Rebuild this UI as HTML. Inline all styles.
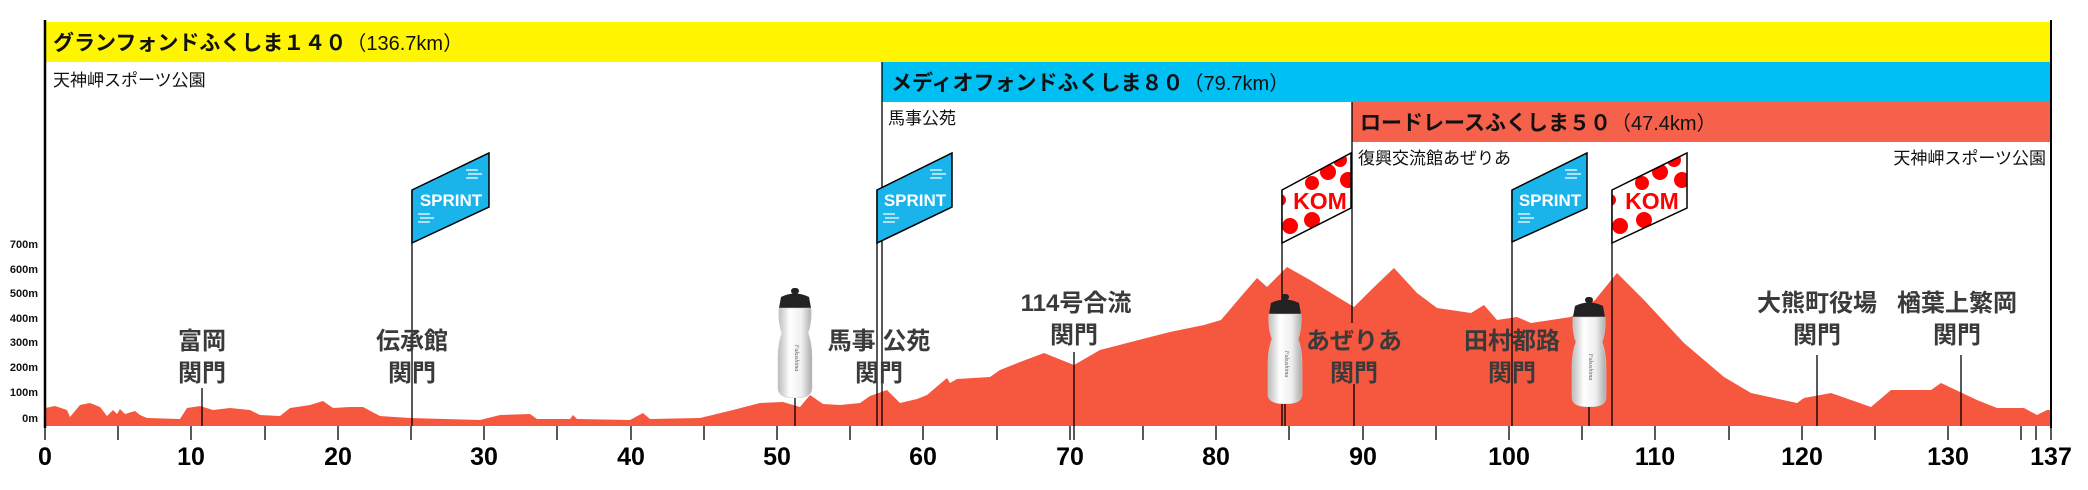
<!DOCTYPE html>
<html><head><meta charset="utf-8"><style>
html,body{margin:0;padding:0;background:#fff;width:2088px;height:490px;overflow:hidden}
svg{display:block}
.jp{font-family:"Liberation Sans","Noto Sans CJK JP",sans-serif}
</style></head><body>
<svg width="2088" height="490" viewBox="0 0 2088 490" xmlns="http://www.w3.org/2000/svg">
<defs>
<linearGradient id="bt" x1="0" x2="1"><stop offset="0" stop-color="#bbb"/><stop offset="0.35" stop-color="#fff"/><stop offset="0.7" stop-color="#eee"/><stop offset="1" stop-color="#aaa"/></linearGradient>
<symbol id="bottle" viewBox="0 0 38 110">
<rect x="15" y="0" width="8" height="6" rx="3" fill="#222"/>
<path d="M5 9 Q19 2 33 9 L35 20 L3 20 Z" fill="#222"/>
<path d="M3 20 L35 20 Q36 35 32 45 Q36 55 36 70 L36 100 Q36 110 19 110 Q2 110 2 100 L2 70 Q2 55 6 45 Q2 35 3 20 Z" fill="url(#bt)" stroke="#ccc" stroke-width="0.6"/>
<text x="19" y="70" font-size="6" fill="#666" transform="rotate(90 19 70)" text-anchor="middle" font-family="Liberation Serif,serif" font-style="italic">Fukushima</text>
</symbol>
<clipPath id="k1"><polygon points="1282,190 1351,153 1351,208 1282,243"/></clipPath>
<clipPath id="k2"><polygon points="1612,190 1687,153 1687,208 1612,243"/></clipPath>
</defs>

<rect x="45" y="22" width="2006" height="40" fill="#fff500"/>
<rect x="882" y="62" width="1169" height="40" fill="#00bff3"/>
<rect x="1352" y="102" width="699" height="40" fill="#f5614b"/>
<g class="jp" font-weight="bold" font-size="21" fill="#111">
<text x="53" y="50">グランフォンドふくしま１４０<tspan font-weight="normal" font-size="20">（136.7km）</tspan></text>
<text x="891" y="90">メディオフォンドふくしま８０<tspan font-weight="normal" font-size="20">（79.7km）</tspan></text>
<text x="1360" y="130">ロードレースふくしま５０<tspan font-weight="normal" font-size="20">（47.4km）</tspan></text>
</g>
<g class="jp" font-size="17" fill="#111">
<text x="53" y="86">天神岬スポーツ公園</text>
<text x="888" y="124">馬事公苑</text>
<text x="1358" y="164">復興交流館あぜりあ</text>
<text x="2046" y="164" text-anchor="end">天神岬スポーツ公園</text>
</g>

<path fill="#f5573f" d="M45,426 L45,408 L55,406 L67,410 L70,417 L80,405 L90,403 L100,407 L107,416 L113,410 L117,414 L120,409 L125,414 L135,411 L140,415 L147,418 L180,419 L187,408 L200,406 L213,410 L230,408 L250,410 L260,415 L280,416 L290,408 L310,405 L323,401 L333,408 L350,407 L363,407 L380,416 L410,418 L480,420 L500,415 L530,414 L537,419 L570,419 L573,415 L577,419 L630,420 L643,413 L650,419 L700,418 L733,410 L760,403 L783,402 L800,407 L810,395 L823,404 L840,405 L860,403 L870,396 L887,390 L900,403 L917,399 L927,395 L947,378 L950,383 L957,379 L990,377 L1000,370 L1020,362 L1044,353 L1074,365 L1100,350 L1131,342 L1170,332 L1204,325 L1221,320 L1244,293 L1257,278 L1267,287 L1287,267 L1310,280 L1331,293 L1354,307 L1371,290 L1394,268 L1417,293 L1437,308 L1471,313 L1484,305 L1497,320 L1517,317 L1531,323 L1571,317 L1595,300 L1617,273 L1644,300 L1684,343 L1724,377 L1751,393 L1797,403 L1804,398 L1831,393 L1871,407 L1891,390 L1931,390 L1941,383 L1977,400 L1997,408 L2024,408 L2037,415 L2047,410 L2051,410 L2051,426 Z"/>

<line x1="45" y1="20" x2="45" y2="428" stroke="#000" stroke-width="2.5"/>
<line x1="2051" y1="20" x2="2051" y2="428" stroke="#000" stroke-width="2"/>
<line x1="882" y1="62" x2="882" y2="426" stroke="#000" stroke-width="1.3"/>
<line x1="1352" y1="102" x2="1352" y2="323" stroke="#000" stroke-width="1.3"/>

<g font-family="Liberation Sans,sans-serif" font-size="11" font-weight="bold" fill="#111" text-anchor="end">
<text x="38" y="248">700m</text><text x="38" y="273">600m</text><text x="38" y="297">500m</text><text x="38" y="322">400m</text>
<text x="38" y="346">300m</text><text x="38" y="371">200m</text><text x="38" y="396">100m</text><text x="38" y="422">0m</text>
</g>

<g stroke="#000" stroke-width="1.3">
<line x1="45" y1="426" x2="45" y2="440"/><line x1="118" y1="426" x2="118" y2="440"/><line x1="191" y1="426" x2="191" y2="440"/><line x1="265" y1="426" x2="265" y2="440"/><line x1="338" y1="426" x2="338" y2="440"/><line x1="411" y1="426" x2="411" y2="440"/><line x1="484" y1="426" x2="484" y2="440"/><line x1="557" y1="426" x2="557" y2="440"/><line x1="631" y1="426" x2="631" y2="440"/><line x1="704" y1="426" x2="704" y2="440"/><line x1="777" y1="426" x2="777" y2="440"/><line x1="850" y1="426" x2="850" y2="440"/><line x1="923" y1="426" x2="923" y2="440"/><line x1="997" y1="426" x2="997" y2="440"/><line x1="1070" y1="426" x2="1070" y2="440"/><line x1="1143" y1="426" x2="1143" y2="440"/><line x1="1216" y1="426" x2="1216" y2="440"/><line x1="1289" y1="426" x2="1289" y2="440"/><line x1="1363" y1="426" x2="1363" y2="440"/><line x1="1436" y1="426" x2="1436" y2="440"/><line x1="1509" y1="426" x2="1509" y2="440"/><line x1="1582" y1="426" x2="1582" y2="440"/><line x1="1655" y1="426" x2="1655" y2="440"/><line x1="1729" y1="426" x2="1729" y2="440"/><line x1="1802" y1="426" x2="1802" y2="440"/><line x1="1875" y1="426" x2="1875" y2="440"/><line x1="1948" y1="426" x2="1948" y2="440"/><line x1="2021" y1="426" x2="2021" y2="440"/><line x1="2036" y1="426" x2="2036" y2="440"/><line x1="2051" y1="426" x2="2051" y2="440"/>
</g>
<g font-family="Liberation Sans,sans-serif" font-size="25" font-weight="bold" fill="#000" text-anchor="middle">
<text x="45" y="465">0</text><text x="191" y="465">10</text><text x="338" y="465">20</text><text x="484" y="465">30</text><text x="631" y="465">40</text><text x="777" y="465">50</text><text x="923" y="465">60</text><text x="1070" y="465">70</text><text x="1216" y="465">80</text><text x="1363" y="465">90</text><text x="1509" y="465">100</text><text x="1655" y="465">110</text><text x="1802" y="465">120</text><text x="1948" y="465">130</text><text x="2051" y="465">137</text>
</g>

<g stroke="#000" stroke-width="1.3">
<line x1="202" y1="388" x2="202" y2="426"/>
<line x1="412" y1="190" x2="412" y2="426"/>
<line x1="795" y1="397" x2="795" y2="426"/>
<line x1="877" y1="190" x2="877" y2="426"/>
<line x1="1074" y1="352" x2="1074" y2="440"/>
<line x1="1282" y1="190" x2="1282" y2="426"/>
<line x1="1285" y1="400" x2="1285" y2="426"/>
<line x1="1354" y1="384" x2="1354" y2="426"/>
<line x1="1512" y1="190" x2="1512" y2="426"/>
<line x1="1589" y1="404" x2="1589" y2="426"/>
<line x1="1612" y1="190" x2="1612" y2="426"/>
<line x1="1817" y1="355" x2="1817" y2="426"/>
<line x1="1961" y1="355" x2="1961" y2="426"/>
</g>

<g class="jp" font-size="24" font-weight="bold" fill="#3a3a3a" text-anchor="middle">
<text x="202" y="349">富岡</text><text x="202" y="381">関門</text>
<text x="412" y="349">伝承館</text><text x="412" y="381">関門</text>
<text x="879" y="349">馬事 公苑</text><text x="879" y="381">関門</text>
<text x="1076" y="311">114号合流</text><text x="1074" y="343">関門</text>
<text x="1354" y="349">あぜりあ</text><text x="1354" y="381">関門</text>
<text x="1512" y="349">田村都路</text><text x="1512" y="381">関門</text>
<text x="1817" y="311">大熊町役場</text><text x="1817" y="343">関門</text>
<text x="1957" y="311">楢葉上繁岡</text><text x="1957" y="343">関門</text>
</g>

<g stroke="#000" stroke-width="1.5">
<polygon points="412,190 489,153 489,207 412,243" fill="#1ab3ea"/>
<polygon points="877,190 952,153 952,207 877,243" fill="#1ab3ea"/>
<polygon points="1512,190 1587,153 1587,208 1512,242" fill="#1ab3ea"/>
</g>
<g font-family="Liberation Sans,sans-serif" font-weight="bold" font-size="17" fill="#fff" text-anchor="middle">
<text x="451" y="206">SPRINT</text><text x="915" y="206">SPRINT</text><text x="1550" y="206">SPRINT</text>
</g>
<g stroke="#fff" stroke-width="1.2" fill="none">
<path d="M466,170 h12 M468,174 h14 M466,178 h12"/><path d="M418,214 h12 M420,218 h14 M418,222 h12"/>
<path d="M930,170 h12 M932,174 h14 M930,178 h12"/><path d="M883,214 h12 M885,218 h14 M883,222 h12"/>
<path d="M1565,170 h12 M1567,174 h14 M1565,178 h12"/><path d="M1518,214 h12 M1520,218 h14 M1518,222 h12"/>
</g>

<g>
<polygon points="1282,190 1351,153 1351,208 1282,243" fill="#fff"/>
<g clip-path="url(#k1)" fill="#f00">
<circle cx="1328" cy="172" r="8"/><circle cx="1348" cy="180" r="8"/><circle cx="1312" cy="183" r="7"/><circle cx="1290" cy="226" r="8"/><circle cx="1312" cy="220" r="8"/><circle cx="1340" cy="160" r="7"/><circle cx="1280" cy="200" r="6"/>
</g>
<polygon points="1282,190 1351,153 1351,208 1282,243" fill="none" stroke="#000" stroke-width="1.5"/>
<text x="1320" y="209" font-family="Liberation Sans,sans-serif" font-weight="bold" font-size="23" fill="#f00" text-anchor="middle">KOM</text>
<polygon points="1612,190 1687,153 1687,208 1612,243" fill="#fff"/>
<g clip-path="url(#k2)" fill="#f00">
<circle cx="1660" cy="172" r="8"/><circle cx="1682" cy="180" r="8"/><circle cx="1642" cy="183" r="7"/><circle cx="1620" cy="226" r="8"/><circle cx="1644" cy="220" r="8"/><circle cx="1674" cy="160" r="7"/><circle cx="1610" cy="200" r="6"/>
</g>
<polygon points="1612,190 1687,153 1687,208 1612,243" fill="none" stroke="#000" stroke-width="1.5"/>
<text x="1652" y="209" font-family="Liberation Sans,sans-serif" font-weight="bold" font-size="23" fill="#f00" text-anchor="middle">KOM</text>
</g>

<use href="#bottle" x="776" y="288" width="38" height="110"/>
<use href="#bottle" x="1266" y="294" width="38" height="110"/>
<use href="#bottle" x="1570" y="297" width="38" height="110"/>
</svg>
</body></html>
